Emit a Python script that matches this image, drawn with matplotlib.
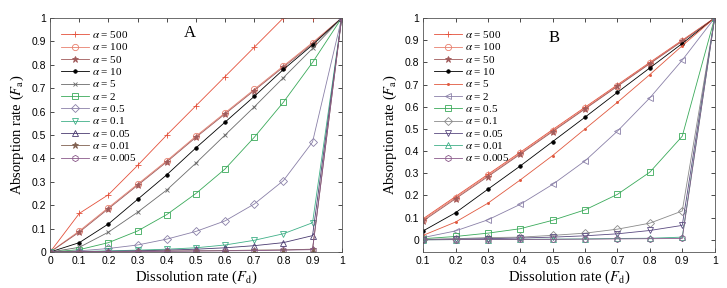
import numpy as np
import matplotlib
matplotlib.use('Agg')
import matplotlib.pyplot as plt

plt.rcParams['mathtext.fontset'] = 'stix'

# Panel A data
xa = [0, 0.1, 0.2, 0.3, 0.4, 0.5, 0.6, 0.7, 0.8, 0.9, 1.0]
labels = ['500', '100', '50', '10', '5', '2', '0.5', '0.1', '0.05', '0.01', '0.005']
A_vals = [
    [0, 0.165, 0.245, 0.37, 0.50, 0.625, 0.75, 0.875, 1.0, 1.0, 1.0],
    [0, 0.09, 0.19, 0.29, 0.39, 0.495, 0.595, 0.695, 0.795, 0.895, 1.0],
    [0, 0.085, 0.185, 0.285, 0.385, 0.49, 0.59, 0.69, 0.79, 0.89, 1.0],
    [0, 0.04, 0.12, 0.225, 0.33, 0.445, 0.555, 0.665, 0.78, 0.885, 1.0],
    [0, 0.02, 0.085, 0.17, 0.265, 0.38, 0.50, 0.62, 0.745, 0.87, 1.0],
    [0, 0.01, 0.04, 0.09, 0.16, 0.25, 0.355, 0.49, 0.64, 0.81, 1.0],
    [0, 0.005, 0.015, 0.03, 0.055, 0.088, 0.133, 0.205, 0.305, 0.47, 1.0],
    [0, 0.002, 0.005, 0.008, 0.012, 0.018, 0.03, 0.05, 0.078, 0.125, 1.0],
    [0, 0.001, 0.003, 0.005, 0.008, 0.012, 0.018, 0.027, 0.04, 0.07, 1.0],
    [0, 0.001, 0.002, 0.003, 0.004, 0.005, 0.006, 0.008, 0.009, 0.012, 1.0],
    [0, 0.001, 0.002, 0.002, 0.003, 0.004, 0.005, 0.006, 0.008, 0.01, 1.0],
]
A_colors = ['#e4503a', '#e8806e', '#a05a5a', '#000000', '#6a6a6a', '#3aaa5a',
            '#8a80a8', '#40b088', '#4a3a70', '#806050', '#8a5a8a']
A_markers = ['+', 'o', '*', '.', 'x', 's', 'D', 'v', '^', '*', 'h']

# Panel B data
xb = [0.1, 0.2, 0.3, 0.4, 0.5, 0.6, 0.7, 0.8, 0.9, 1.0]
B_vals = [
    [0.095, 0.195, 0.295, 0.395, 0.497, 0.598, 0.699, 0.80, 0.90, 1.0],
    [0.09, 0.19, 0.29, 0.39, 0.492, 0.593, 0.695, 0.797, 0.898, 1.0],
    [0.085, 0.185, 0.285, 0.386, 0.488, 0.59, 0.692, 0.794, 0.895, 1.0],
    [0.04, 0.122, 0.228, 0.333, 0.443, 0.553, 0.665, 0.775, 0.885, 1.0],
    [0.02, 0.08, 0.165, 0.27, 0.38, 0.50, 0.62, 0.745, 0.875, 1.0],
    [0.01, 0.04, 0.09, 0.16, 0.25, 0.356, 0.49, 0.64, 0.81, 1.0],
    [0.005, 0.015, 0.03, 0.05, 0.088, 0.135, 0.205, 0.305, 0.467, 1.0],
    [0.002, 0.005, 0.01, 0.012, 0.02, 0.03, 0.048, 0.075, 0.13, 1.0],
    [0.001, 0.003, 0.005, 0.008, 0.012, 0.018, 0.027, 0.042, 0.065, 1.0],
    [0.0, 0.001, 0.001, 0.002, 0.003, 0.004, 0.006, 0.007, 0.012, 1.0],
    [0.0, 0.001, 0.001, 0.002, 0.002, 0.003, 0.004, 0.005, 0.006, 1.0],
]
B_colors = ['#e4503a', '#e8806e', '#a05a5a', '#000000', '#e0583e', '#8a80a8',
            '#3aaa5a', '#8a8a8a', '#5a4a80', '#40b088', '#8a5a8a']
B_markers = ['+', 'o', '*', '.', '.', '<', 's', 'D', 'v', '^', 'h']

fig = plt.figure(figsize=(7.27, 2.88), dpi=100)
axA = fig.add_axes([0.069, 0.125, 0.401, 0.8125])
axB = fig.add_axes([0.582, 0.125, 0.401, 0.8125])


def draw(ax, x, vals, colors, markers, small=()):
    for i, (v, c, m, lab) in enumerate(zip(vals, colors, markers, labels)):
        filled = m in ['.', '+', 'x', '*']
        ms = 4.5
        if m == '.':
            ms = 5
        if i in small:
            ms = 3
        if m == 'D':
            ms = 3.8
        ax.plot(x, v, color=c, marker=m, linewidth=0.6, markersize=ms,
                markerfacecolor=c if filled else 'none', markeredgecolor=c,
                markeredgewidth=0.6, label=r'$\alpha$ = ' + lab)
    ax.tick_params(direction='in', top=True, right=True, labelsize=7.5,
                   length=3, width=0.5, pad=3)
    for s in ax.spines.values():
        s.set_linewidth(0.6)
        s.set_color('#555555')
    ax.set_ylim(0 if ax is axA else -0.055, 1)
    ax.set_yticks(np.arange(0, 1.01, 0.1))
    ax.set_yticklabels(['0'] + ['%.1f' % t for t in np.arange(0.1, 0.95, 0.1)] + ['1'])
    ax.set_xlabel(r'Dissolution rate ($F_\mathrm{d}$)', fontsize=10.5,
                  family='Liberation Serif', labelpad=2)
    ax.set_ylabel(r'Absorption rate ($F_\mathrm{a}$)', fontsize=10.5,
                  family='Liberation Serif', labelpad=4)
    ax.legend(loc='upper left', frameon=False, labelspacing=0.12,
              handlelength=2.5, handletextpad=0.3, borderaxespad=0.6,
              prop={'family': 'Liberation Serif', 'size': 8})


draw(axA, xa, A_vals, A_colors, A_markers, small=(4,))
axA.set_xlim(0, 1)
axA.set_xticks(np.arange(0, 1.01, 0.1))
axA.set_xticklabels(['0'] + ['%.1f' % t for t in np.arange(0.1, 0.95, 0.1)] + ['1'])
axA.text(0.48, 0.935, 'A', transform=axA.transAxes, fontsize=12,
         family='Liberation Serif', ha='center', va='center')

draw(axB, xb, B_vals, B_colors, B_markers, small=(4,))
axB.set_xlim(0.1, 1)
axB.set_xticks(np.arange(0.1, 1.01, 0.1))
axB.set_xticklabels(['%.1f' % t for t in np.arange(0.1, 0.95, 0.1)] + ['1'])
axB.text(0.45, 0.915, 'B', transform=axB.transAxes, fontsize=12,
         family='Liberation Serif', ha='center', va='center')

for lab in axA.get_xticklabels() + axA.get_yticklabels() + axB.get_xticklabels() + axB.get_yticklabels():
    lab.set_family('Liberation Sans')

fig.savefig('out.png', dpi=100)
